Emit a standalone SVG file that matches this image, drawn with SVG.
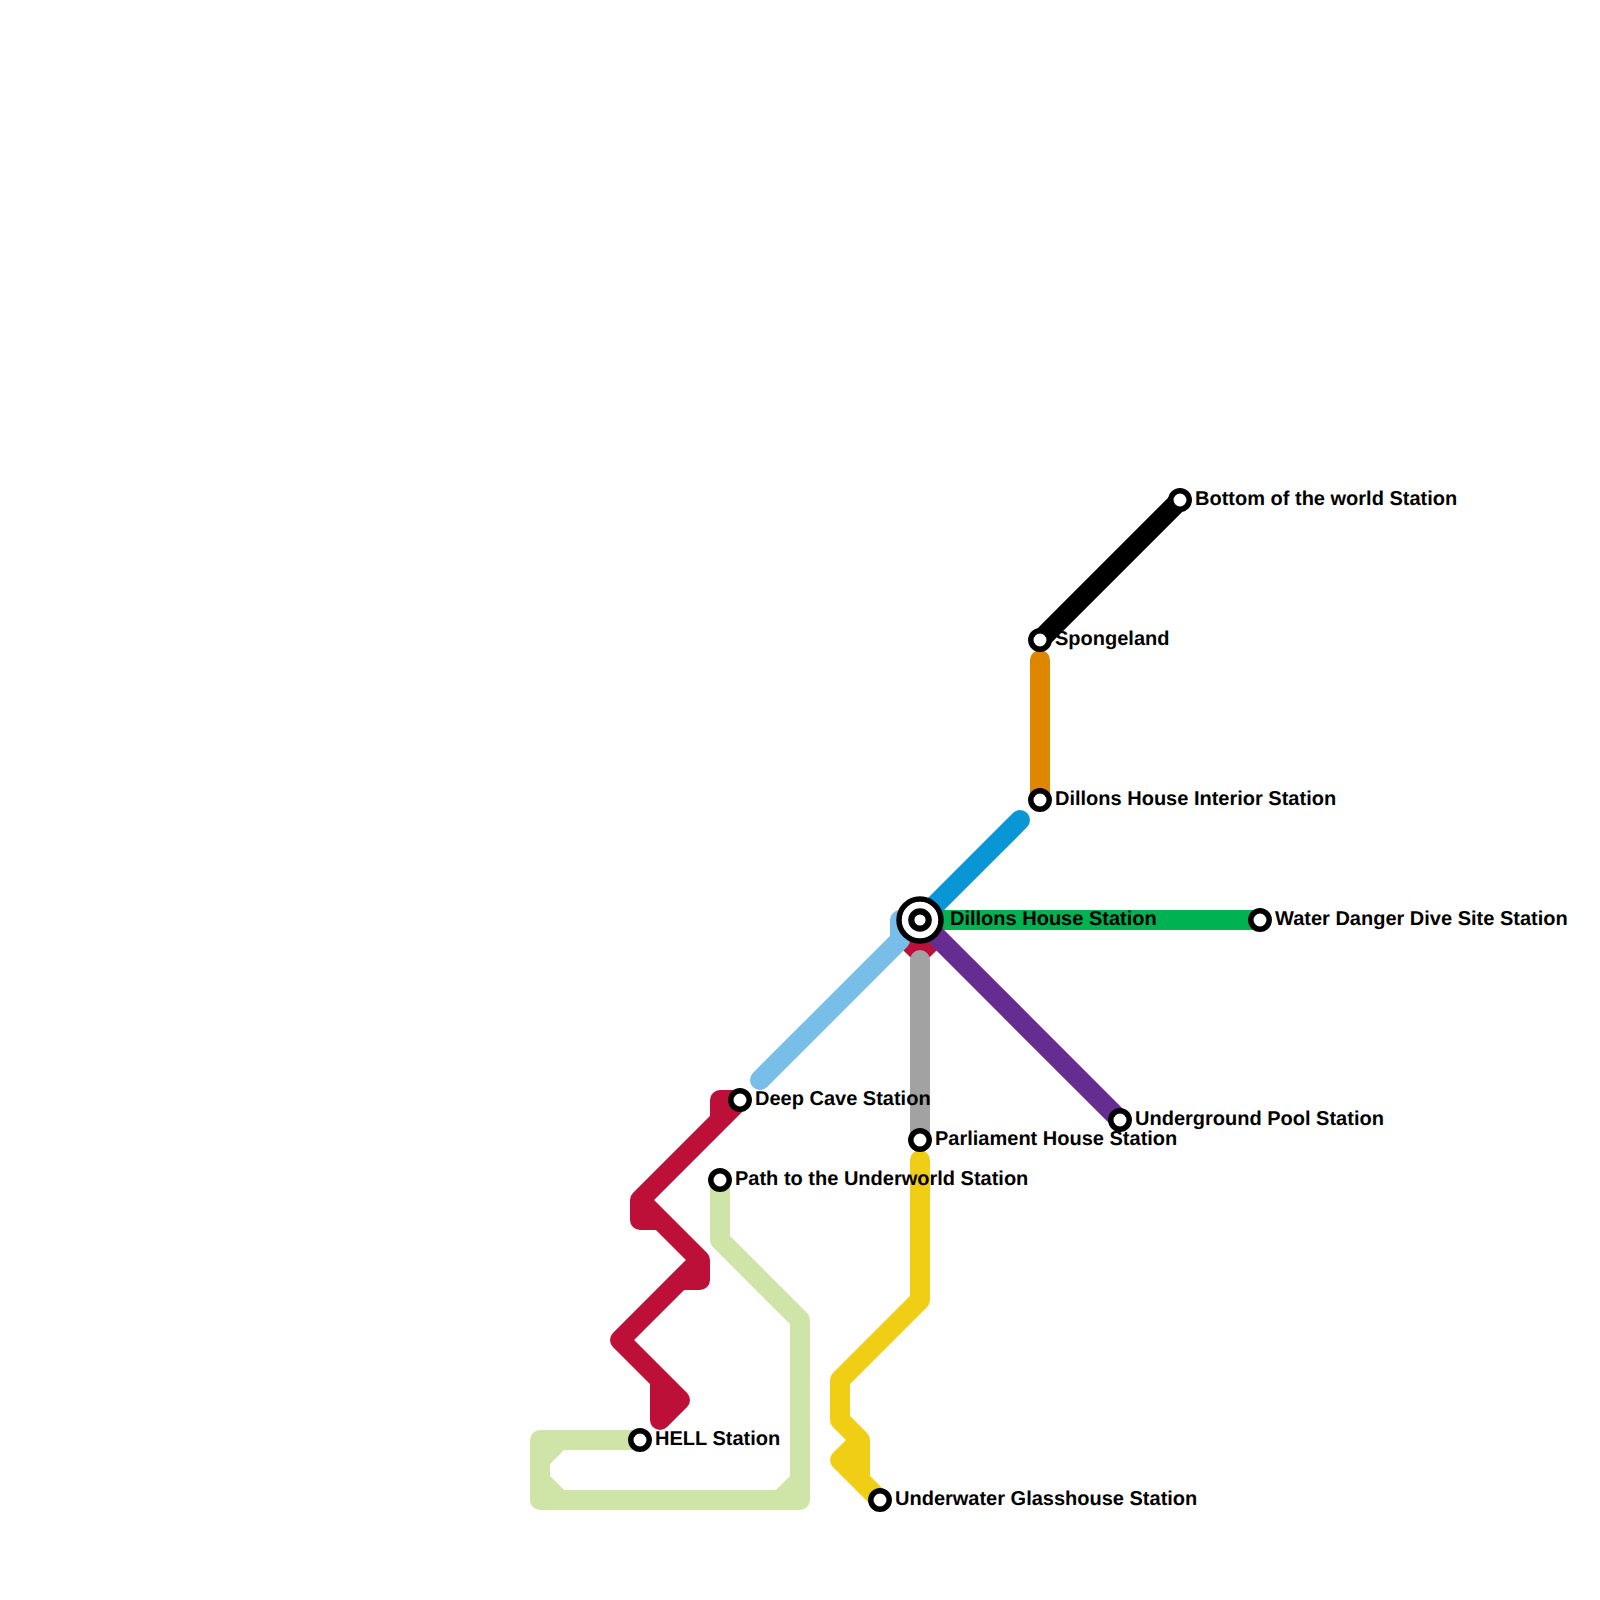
<svg xmlns="http://www.w3.org/2000/svg" width="1600" height="1600" viewBox="0 0 1600 1600">
<style>
.l{fill:none;stroke-width:20;stroke-linecap:round;stroke-linejoin:round}
.s{fill:#fff;stroke:#000;stroke-width:5.5}
.c{fill:#fff;stroke:#000;stroke-width:6.2}
text{font-family:"Liberation Sans",Arial,sans-serif;font-size:20px;font-weight:700;fill:#000;text-rendering:geometricPrecision}
</style>
<rect width="1600" height="1600" fill="#fff"/>
<g id="connectors">
<path class="l" stroke="#bd1038" d="M906.5 953.5L920 940L933.5 953.5" style="stroke-linecap:butt"/>
<path class="l" stroke="#00b251" d="M920 920H1260"/>
<path class="l" stroke="#662c90" d="M920 920L1120 1120"/>
<path class="l" stroke="#0896d7" d="M920 920L1020 820"/>
<path class="l" stroke="#79bde9" d="M760 1080L900 940V920H920"/>
<path class="l" stroke="#a2a2a2" d="M920 960V1140"/>
<path class="l" stroke="#df8600" d="M1040 660V800"/>
<path class="l" stroke="#000" d="M1040 640L1180 500"/>
<path class="l" stroke="#bd1038" d="M740 1100L640 1200L700 1260L620 1340L680 1400L660 1420V1380M740 1100H720V1120M640 1200V1220H660M700 1260V1280H680"/>
<path class="l" stroke="#cfe4a7" d="M720 1180V1240L800 1320V1500H540V1440H640M560 1440L540 1460M540 1480L560 1500M800 1480L780 1500"/>
<path class="l" stroke="#f0ce15" d="M920 1160V1300L840 1380V1420L860 1440L840 1460L880 1500M860 1440V1480"/>
</g>
<g id="st-dillons"><circle class="s" cx="920" cy="920" r="21"/><circle class="c" cx="920" cy="920" r="8.7"/><text x="950" y="925">Dillons House Station</text></g>
<g id="st-bottom"><circle class="s" cx="1180" cy="500" r="9.2"/><text x="1195" y="505">Bottom of the world Station</text></g>
<g id="st-sponge"><circle class="s" cx="1040" cy="640" r="9.2"/><text x="1055" y="645">Spongeland</text></g>
<g id="st-interior"><circle class="s" cx="1040" cy="800" r="9.2"/><text x="1055" y="805">Dillons House Interior Station</text></g>
<g id="st-water"><circle class="s" cx="1260" cy="920" r="9.2"/><text x="1275" y="925">Water Danger Dive Site Station</text></g>
<g id="st-pool"><circle class="s" cx="1120" cy="1120" r="9.2"/><text x="1135" y="1125">Underground Pool Station</text></g>
<g id="st-parliament"><circle class="s" cx="920" cy="1140" r="9.2"/><text x="935" y="1145">Parliament House Station</text></g>
<g id="st-deep"><circle class="s" cx="740" cy="1100" r="9.2"/><text x="755" y="1105">Deep Cave Station</text></g>
<g id="st-path"><circle class="s" cx="720" cy="1180" r="9.2"/><text x="735" y="1185">Path to the Underworld Station</text></g>
<g id="st-hell"><circle class="s" cx="640" cy="1440" r="9.2"/><text x="655" y="1445">HELL Station</text></g>
<g id="st-underwater"><circle class="s" cx="880" cy="1500" r="9.2"/><text x="895" y="1505">Underwater Glasshouse Station</text></g>
</svg>
